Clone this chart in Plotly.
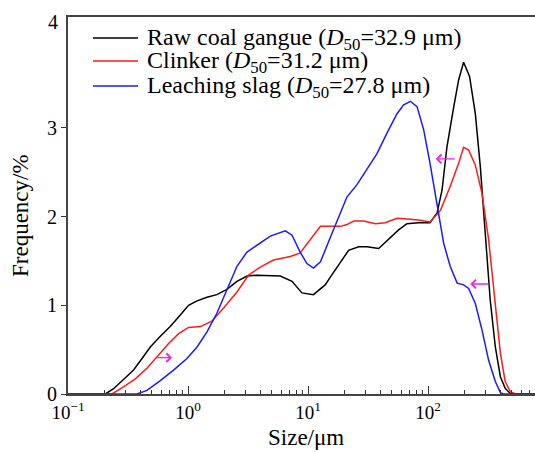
import math
import plotly.graph_objects as go

# ---- data ----
raw_x = [0.1, 0.205, 0.24, 0.29, 0.352, 0.414, 0.485, 0.588, 0.711, 0.863, 1.01, 1.19, 1.44, 1.74, 2.11,
         2.56, 3.1, 3.76, 5.87, 7.36, 8.9, 11.1, 13.9, 15.4, 18.6, 21.8, 26.4, 31, 38.8, 47, 56.9, 66.8,
         83.5, 104, 119, 131, 144, 164, 180, 198, 222, 248, 273, 300, 330, 364, 401, 440, 485, 520, 800]
raw_y = [0, 0, 0.06, 0.16, 0.27, 0.40, 0.53, 0.65, 0.76, 0.89, 1.0, 1.05, 1.09, 1.12, 1.18,
         1.27, 1.33, 1.34, 1.33, 1.27, 1.14, 1.12, 1.23, 1.32, 1.49, 1.62, 1.66, 1.66, 1.64, 1.74, 1.85, 1.92,
         1.93, 1.93, 2.04, 2.30, 2.79, 3.24, 3.54, 3.74, 3.58, 3.16, 2.56, 1.81, 1.06, 0.53, 0.195, 0.065, 0.005, 0, 0]

clinker_x = [0.1, 0.233, 0.29, 0.364, 0.455, 0.552, 0.69, 0.836, 1.01, 1.27, 1.58, 1.98, 2.56, 3.2, 4.0,
             5.17, 7.12, 8.6, 10.4, 12.7, 15.4, 18.6, 21.1, 24, 29.1, 36.4, 44, 55.2, 71.3, 86, 104, 127,
             153, 180, 198, 218, 248, 282, 320, 364, 401, 440, 485, 535, 800]
clinker_y = [0, 0, 0.08, 0.17, 0.29, 0.42, 0.57, 0.68, 0.75, 0.76, 0.82, 0.97, 1.15, 1.34, 1.43,
             1.51, 1.55, 1.59, 1.74, 1.89, 1.89, 1.89, 1.91, 1.95, 1.95, 1.92, 1.93, 1.98, 1.97, 1.96, 1.94, 2.07,
             2.34, 2.60, 2.78, 2.75, 2.58, 2.26, 1.74, 0.98, 0.46, 0.14, 0.025, 0, 0]

slag_x = [0.1, 0.376, 0.455, 0.588, 0.758, 0.98, 1.19, 1.44, 1.74, 2.11, 2.56, 3.1, 3.76, 4.85, 6.47,
          7.36, 8.6, 9.8, 11.1, 12.7, 15.4, 17.5, 21.1, 25.6, 31, 37.6, 45.5, 55.2, 62.7, 71.3, 81, 92,
          104, 119, 135, 153, 175, 198, 218, 248, 282, 320, 364, 401, 427, 800]
slag_y = [0, 0, 0.04, 0.15, 0.27, 0.40, 0.53, 0.70, 0.91, 1.17, 1.44, 1.60, 1.68, 1.78, 1.84,
          1.79, 1.60, 1.47, 1.42, 1.49, 1.77, 1.96, 2.22, 2.36, 2.54, 2.71, 2.94, 3.16, 3.26, 3.30, 3.24, 2.98,
          2.60, 2.15, 1.70, 1.44, 1.25, 1.23, 1.19, 1.02, 0.72, 0.38, 0.14, 0.015, 0, 0]

series_names = ["Raw coal gangue (<i>D</i><sub>50</sub>=32.9 μm)",
                "Clinker (<i>D</i><sub>50</sub>=31.2 μm)",
                "Leaching slag (<i>D</i><sub>50</sub>=27.8 μm)"]
series_colors = ["#000000", "#ff1a1a", "#1a1aff"]

# arrows: (head_x, tail_x, y)
arrow_head_x = [0.736, 116, 225]
arrow_tail_x = [0.535, 172, 327]
arrow_y = [0.41, 2.65, 1.24]

x_tick_vals = [0.1, 1, 10, 100]
x_tick_text = ["10<sup>−1</sup>", "10<sup>0</sup>", "10<sup>1</sup>", "10<sup>2</sup>"]
y_tick_vals = [0, 1, 2, 3]
y_top_label = "4"

FONT = "Times New Roman, Liberation Serif, DejaVu Serif, serif"

fig = go.Figure()
for xs, ys, name, col in zip([raw_x, clinker_x, slag_x], [raw_y, clinker_y, slag_y], series_names, series_colors):
    fig.add_trace(go.Scatter(x=xs, y=ys, mode="lines", name=name,
                             line=dict(color=col, width=1.5), showlegend=False))

L, R, T, B = 68, 0, 17, 58
W, H = 535, 452
pw, ph = W - L - R, H - T - B

def px2paper(px):
    return (px - L) / pw

def py2paper(py):
    return (H - B - py) / ph

annotations = []
shapes = []
# manual legend
leg_rows = [38, 61, 86]
for name, col, ry in zip(series_names, series_colors, leg_rows):
    shapes.append(dict(type="line", xref="paper", yref="paper",
                       x0=px2paper(93), x1=px2paper(138), y0=py2paper(ry), y1=py2paper(ry),
                       line=dict(color=col, width=1.5)))
    annotations.append(dict(xref="paper", yref="paper", x=px2paper(145), y=py2paper(ry + 1),
                            xanchor="left", yanchor="middle", showarrow=False, text=name,
                            font=dict(family=FONT, size=24, color="black")))

for hx, tx, ay in zip(arrow_head_x, arrow_tail_x, arrow_y):
    annotations.append(dict(x=math.log10(hx), y=ay, ax=math.log10(tx), ay=ay, xref="x", yref="y",
                            axref="x", ayref="y", showarrow=True, text="", arrowhead=4,
                            arrowsize=1.3, arrowwidth=1.3, arrowcolor="#f020f0"))

annotations.append(dict(xref="paper", yref="paper", x=px2paper(60), y=py2paper(22), xanchor="right",
                        yanchor="middle", showarrow=False, text=y_top_label,
                        font=dict(family=FONT, size=20, color="black")))
annotations.append(dict(xref="paper", yref="paper", x=px2paper(20), y=py2paper(216), xanchor="center",
                        yanchor="middle", showarrow=False, text="Frequency/%", textangle=-90,
                        font=dict(family=FONT, size=23, color="black")))
annotations.append(dict(xref="paper", yref="paper", x=px2paper(306), y=py2paper(438), xanchor="center",
                        yanchor="middle", showarrow=False, text="Size/μm",
                        font=dict(family=FONT, size=23, color="black")))

fig.update_layout(
    width=W, height=H,
    margin=dict(l=L, r=R, t=T, b=B),
    paper_bgcolor="white", plot_bgcolor="white",
    font=dict(family=FONT, color="black"),
    annotations=annotations, shapes=shapes,
    xaxis=dict(type="log", range=[-1, -1 + pw / 120], tickvals=x_tick_vals, ticktext=x_tick_text,
               showgrid=False, zeroline=False, showline=True, mirror=True, linecolor="#444",
               linewidth=2, ticks="inside", ticklen=8, tickwidth=1.3, tickcolor="#333",
               tickfont=dict(family=FONT, size=19, color="black"),
               minor=dict(ticks="inside", ticklen=4.5, dtick="D1", tickwidth=1.1, tickcolor="#333",
                          showgrid=False)),
    yaxis=dict(range=[0, 4.25], tickvals=y_tick_vals, showgrid=False, zeroline=False, showline=True,
               linecolor="#444", linewidth=2, ticks="outside", ticklen=5, tickwidth=1.3, tickcolor="#333",
               tickfont=dict(family=FONT, size=20, color="black")),
)

fig.write_html("out.html")
